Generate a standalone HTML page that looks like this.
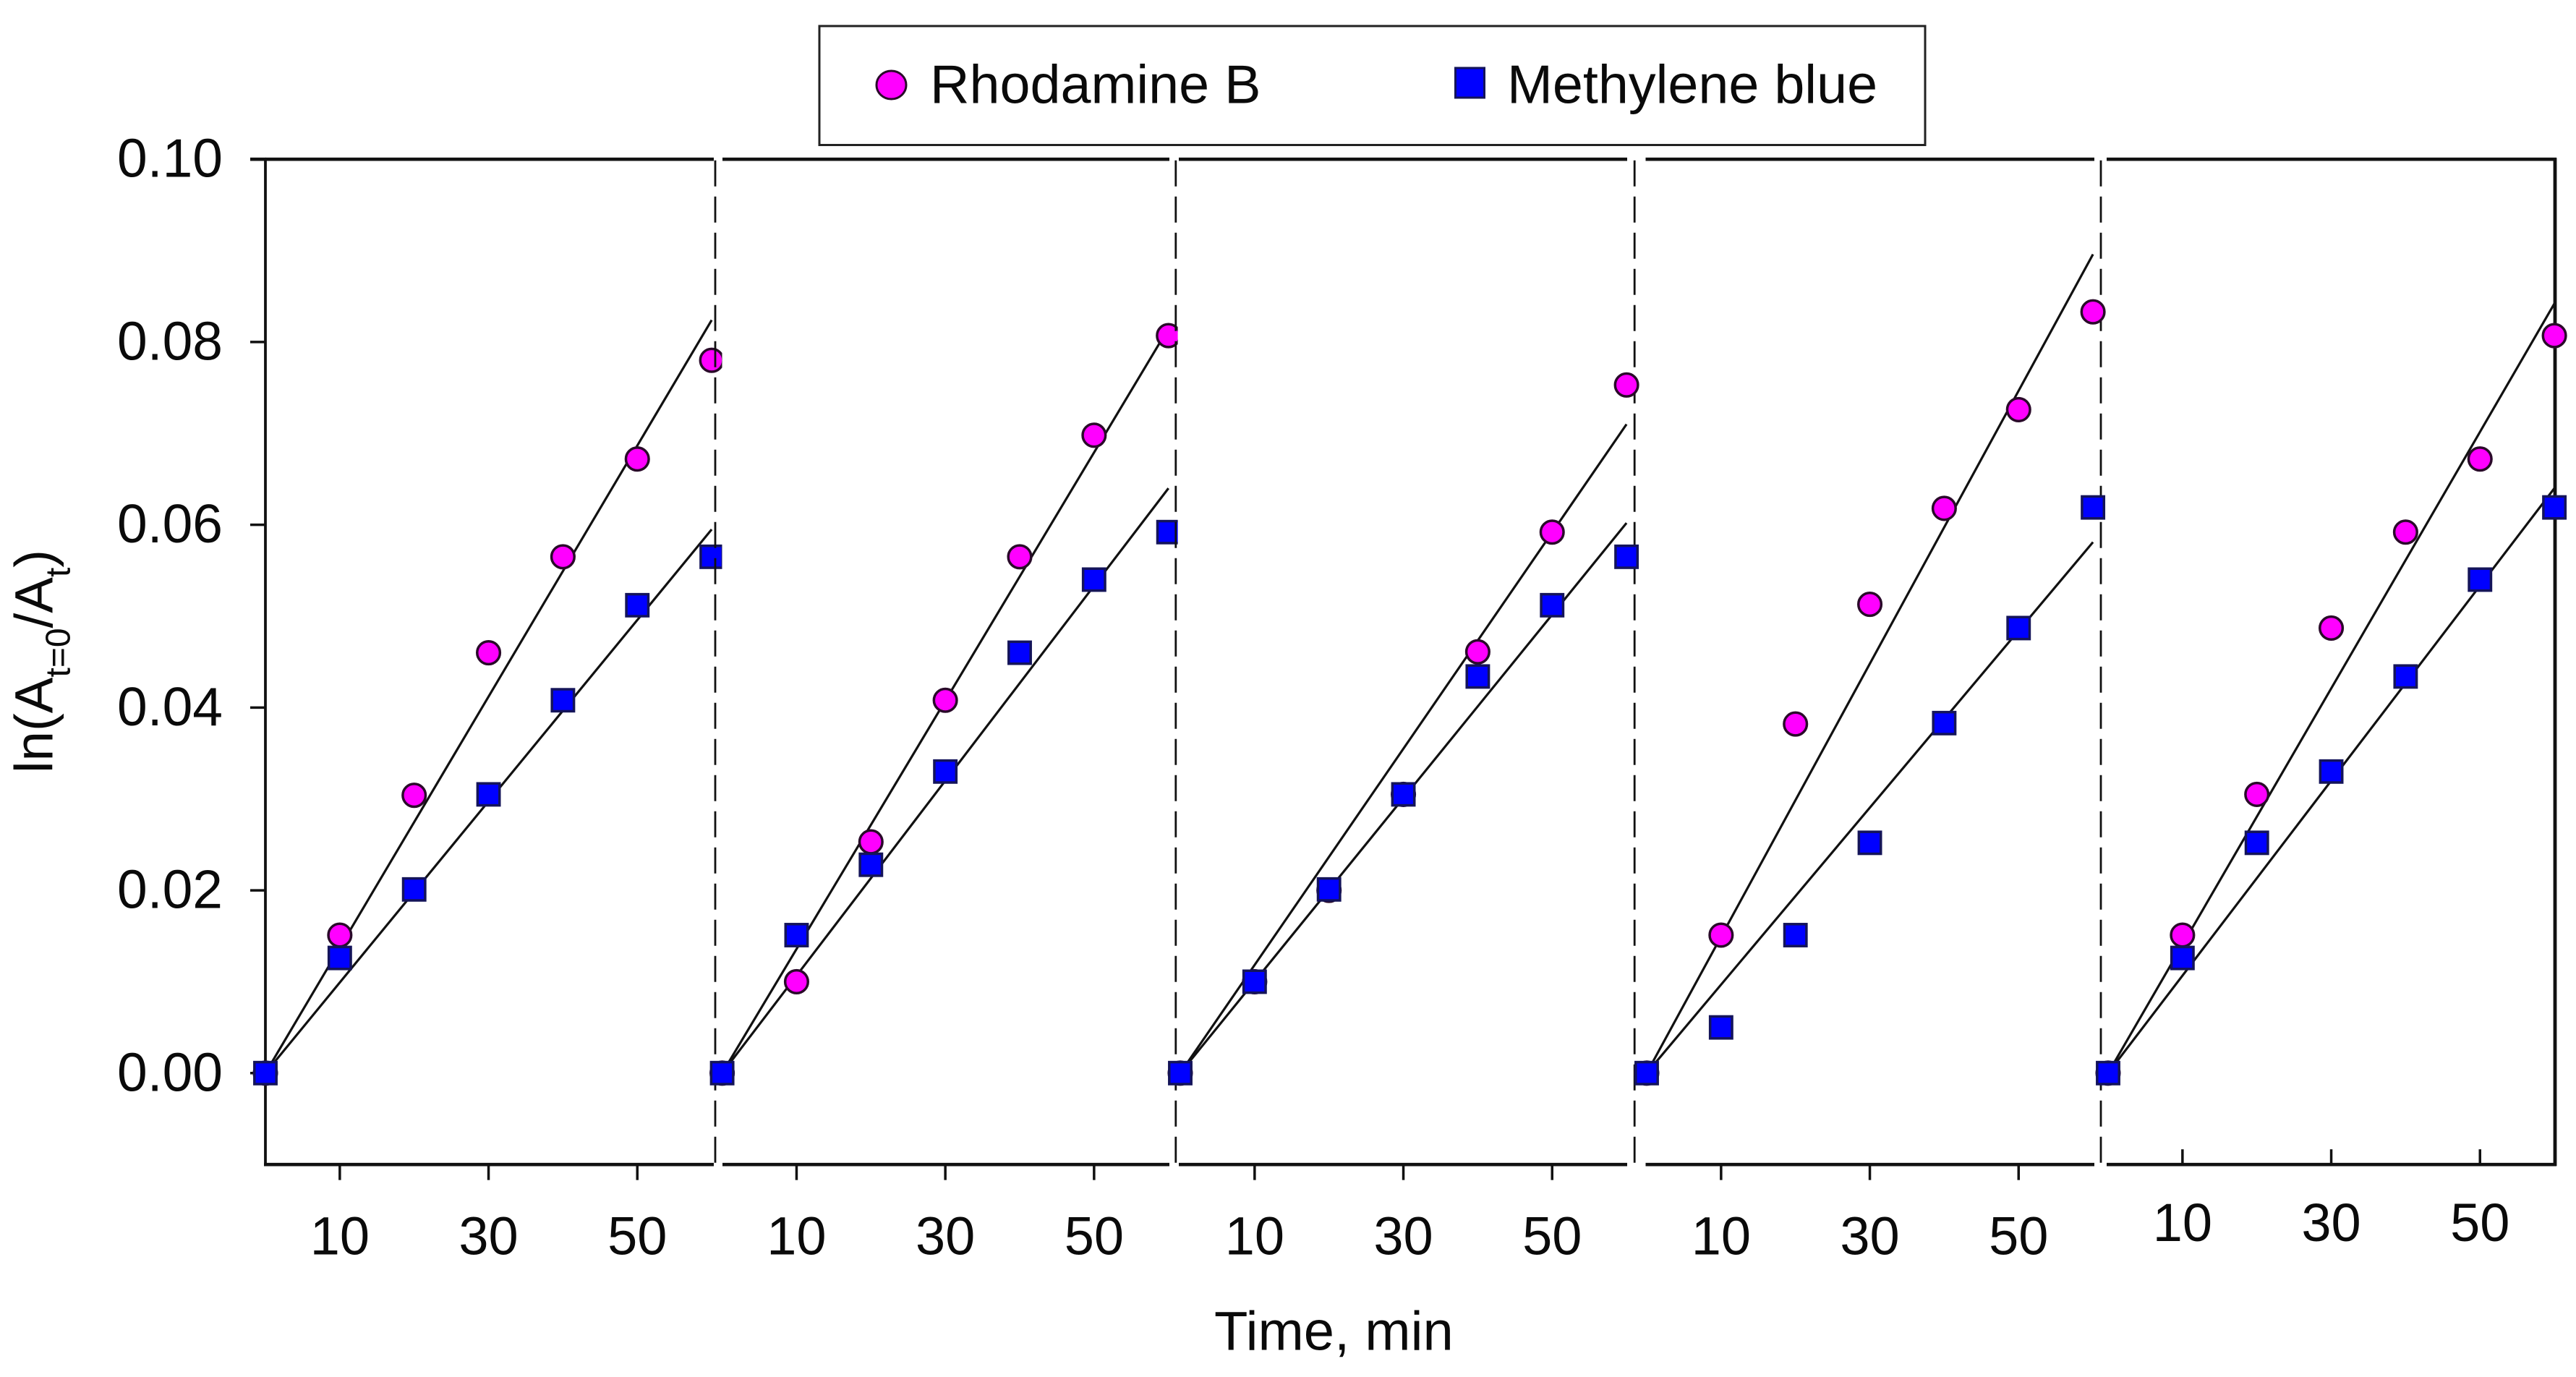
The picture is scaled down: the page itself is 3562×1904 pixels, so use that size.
<!DOCTYPE html>
<html lang="en">
<head>
<meta charset="utf-8">
<title>ln(At=0/At) versus time for Rhodamine B and Methylene blue</title>
<style>
html,body{margin:0;padding:0;background:#fff;width:3562px;height:1904px;overflow:hidden}
svg{display:block}
text{font-family:"Liberation Sans",Arial,sans-serif;fill:#0a0a0a}
</style>
</head>
<body>
<svg id="chart" xmlns="http://www.w3.org/2000/svg" width="3562" height="1904" viewBox="0 0 3562 1904">
  <rect x="0" y="0" width="3562" height="1904" fill="#fff"/>
  <g>
    <rect x="1133" y="36" width="1529" height="164.5" fill="#fff" stroke="#222" stroke-width="3"/>
    <ellipse cx="1232.5" cy="117.5" rx="20.5" ry="19.5" fill="#ff00ff" stroke="#2a0a2a" stroke-width="3"/>
    <text x="1286" y="142.5" font-size="75.5">Rhodamine B</text>
    <rect x="2012.5" y="94" width="40" height="41" fill="#0000ff" stroke="#14145a" stroke-width="3"/>
    <text x="2084" y="142.5" font-size="75.5">Methylene blue</text>
  </g>
  <text transform="translate(72.5 1069) rotate(-90)" font-size="74.5">ln(A<tspan font-size="48" dy="24">t=0</tspan><tspan dy="-24">/A</tspan><tspan font-size="48" dy="24">t</tspan><tspan dy="-24">)</tspan></text>
  <text x="1679" y="1866.5" font-size="76">Time, min</text>
  <g id="plot"></g>
</svg>
<script>
// ---- Data ----
const times = [0, 10, 20, 30, 40, 50, 60];
const xTickValues = [10, 30, 50];
const xTickLabels = ['10', '30', '50'];
const yTickValues = [0, 0.02, 0.04, 0.06, 0.08, 0.10];
const yTickLabels = ['0.00', '0.02', '0.04', '0.06', '0.08', '0.10'];

const rhodaminePanel1 = [0, 0.0151, 0.0304, 0.0460, 0.0565, 0.0672, 0.0780];
const rhodaminePanel2 = [0, 0.0100, 0.0253, 0.0408, 0.0565, 0.0698, 0.0807];
const rhodaminePanel3 = [0, 0.0100, 0.0200, 0.0305, 0.0461, 0.0592, 0.0753];
const rhodaminePanel4 = [0, 0.0151, 0.0382, 0.0513, 0.0618, 0.0726, 0.0833];
const rhodaminePanel5 = [0, 0.0151, 0.0305, 0.0487, 0.0592, 0.0672, 0.0807];

const methylenePanel1 = [0, 0.0126, 0.0201, 0.0305, 0.0408, 0.0512, 0.0565];
const methylenePanel2 = [0, 0.0151, 0.0228, 0.0330, 0.0460, 0.0540, 0.0592];
const methylenePanel3 = [0, 0.0100, 0.0201, 0.0305, 0.0434, 0.0512, 0.0565];
const methylenePanel4 = [0, 0.0050, 0.0151, 0.0252, 0.0383, 0.0487, 0.0619];
const methylenePanel5 = [0, 0.0126, 0.0252, 0.0330, 0.0434, 0.0540, 0.0619];

// Fitted line value reached at t = 60 in each panel
const rhodamineFitEnd = [0.0824, 0.0815, 0.0710, 0.0896, 0.0842];
const methyleneFitEnd = [0.0595, 0.0640, 0.0602, 0.0581, 0.0640];

const rhodamineSeries = [rhodaminePanel1, rhodaminePanel2, rhodaminePanel3, rhodaminePanel4, rhodaminePanel5];
const methyleneSeries = [methylenePanel1, methylenePanel2, methylenePanel3, methylenePanel4, methylenePanel5];

// ---- Layout ----
const SVG_NS = 'http://www.w3.org/2000/svg';
const plot = document.getElementById('plot');
const panelOrigin = [367, 998.6, 1632, 2277, 2915];
const PX_PER_MIN = 10.285;
const Y_ZERO = 1483.8;
const PX_PER_UNIT = 12636;
const Y_MIN = -0.01;
const Y_MAX = 0.10;
const segmentStart = [367, 999, 1630, 2275.5, 2913];
const segmentEnd = [987, 1617, 2250, 2896, 3535];
const dividerX = [989, 1625.8, 2260.2, 2905];
const clipEnd = [998.5, 1628.6, 2276, 2913, 3562];
const panelCount = 5;

function xScale(panel, t) { return panelOrigin[panel] + t * PX_PER_MIN; }
function yScale(v) { return Y_ZERO - v * PX_PER_UNIT; }

function make(tag, attrs, parent) {
  const el = document.createElementNS(SVG_NS, tag);
  for (const k in attrs) el.setAttribute(k, attrs[k]);
  (parent || plot).appendChild(el);
  return el;
}

// clip regions: a later panel overlaps the marks of the panel before it
const defs = make('defs', {});
for (let p = 0; p < panelCount; p++) {
  const cp = make('clipPath', { id: 'panel-clip-' + p }, defs);
  make('rect', { x: panelOrigin[p] - 30, y: 0, width: clipEnd[p] - panelOrigin[p] + 30, height: 1904 }, cp);
}

function drawDivider(i) {
  const el = make('line', { x1: dividerX[i], x2: dividerX[i], y1: yScale(Y_MAX) + 1.5, y2: yScale(Y_MIN), stroke: '#111', 'stroke-width': 2.8, 'stroke-dasharray': '36 14' });
  
  
}

function drawAxes() {
  const leftAxis = make('line', { x1: 367, x2: 367, y1: yScale(Y_MAX), y2: yScale(Y_MIN) + 2, stroke: '#111', 'stroke-width': 3.8 });
  
  

  const rightAxis = make('line', { x1: 3533, x2: 3533, y1: yScale(Y_MAX) - 2, y2: yScale(Y_MIN) + 2, stroke: '#111', 'stroke-width': 4.8 });
  
  

  yTickValues.forEach(function (v, i) {
    const tick = make('line', { x1: 346, x2: 367, y1: yScale(v), y2: yScale(v), stroke: '#111', 'stroke-width': 3.5 });
    
    
    const label = make('text', { x: 308, y: yScale(v) + 24.5, 'text-anchor': 'end', 'font-size': 75 });
    label.textContent = yTickLabels[i];
    
    
  });

  const topStub = make('line', { x1: 346, x2: 368, y1: yScale(Y_MAX), y2: yScale(Y_MAX), stroke: '#111', 'stroke-width': 4.6 });
  
  

  for (let p = 0; p < panelCount; p++) {
    const top = make('line', { x1: segmentStart[p], x2: segmentEnd[p], y1: yScale(Y_MAX), y2: yScale(Y_MAX), stroke: '#111', 'stroke-width': 4.6 });
    
    

    const bottom = make('line', { x1: segmentStart[p] - (p === 0 ? 2 : 0), x2: segmentEnd[p], y1: yScale(Y_MIN), y2: yScale(Y_MIN), stroke: '#111', 'stroke-width': 4.6 });
    
    

    const inward = p === panelCount - 1;
    xTickValues.forEach(function (t, i) {
      const x = xScale(p, t);
      const y0 = yScale(Y_MIN);
      const tick = make('line', { x1: x, x2: x, y1: y0, y2: inward ? y0 - 21 : y0 + 21.5, stroke: '#111', 'stroke-width': 3.5 });
      
      
      const label = make('text', { x: x, y: inward ? 1716 : 1734.5, 'text-anchor': 'middle', 'font-size': 74 });
      label.textContent = xTickLabels[i];
      
      
    });
  }
}

function drawPanelMarks(p) {
  const g = make('g', { 'clip-path': 'url(#panel-clip-' + p + ')' });
  
  

  const lastT = times[times.length - 1];

  const fitR = make('line', { x1: xScale(p, 0), y1: yScale(0), x2: xScale(p, lastT), y2: yScale(rhodamineFitEnd[p]), stroke: '#111', 'stroke-width': 3.2 }, g);
  
  

  const fitM = make('line', { x1: xScale(p, 0), y1: yScale(0), x2: xScale(p, lastT), y2: yScale(methyleneFitEnd[p]), stroke: '#111', 'stroke-width': 3.2 }, g);
  
  

  times.forEach(function (t, i) {
    const c = make('circle', { cx: xScale(p, t), cy: yScale(rhodamineSeries[p][i]), r: 15.8, fill: '#ff00ff', stroke: '#2a0a2a', 'stroke-width': 3.5 }, g);
    
    
  });

  times.forEach(function (t, i) {
    const s = make('rect', { x: xScale(p, t) - 15.2, y: yScale(methyleneSeries[p][i]) - 15.2, width: 30.4, height: 30.4, fill: '#0000ff', stroke: '#14145a', 'stroke-width': 3.5 }, g);
    
    
  });
}

drawAxes();
drawPanelMarks(0);
drawDivider(0);
drawPanelMarks(1);
drawDivider(1);
drawDivider(2);
drawPanelMarks(2);
drawDivider(3);
drawPanelMarks(3);
drawPanelMarks(4);
</script>
</body>
</html>
